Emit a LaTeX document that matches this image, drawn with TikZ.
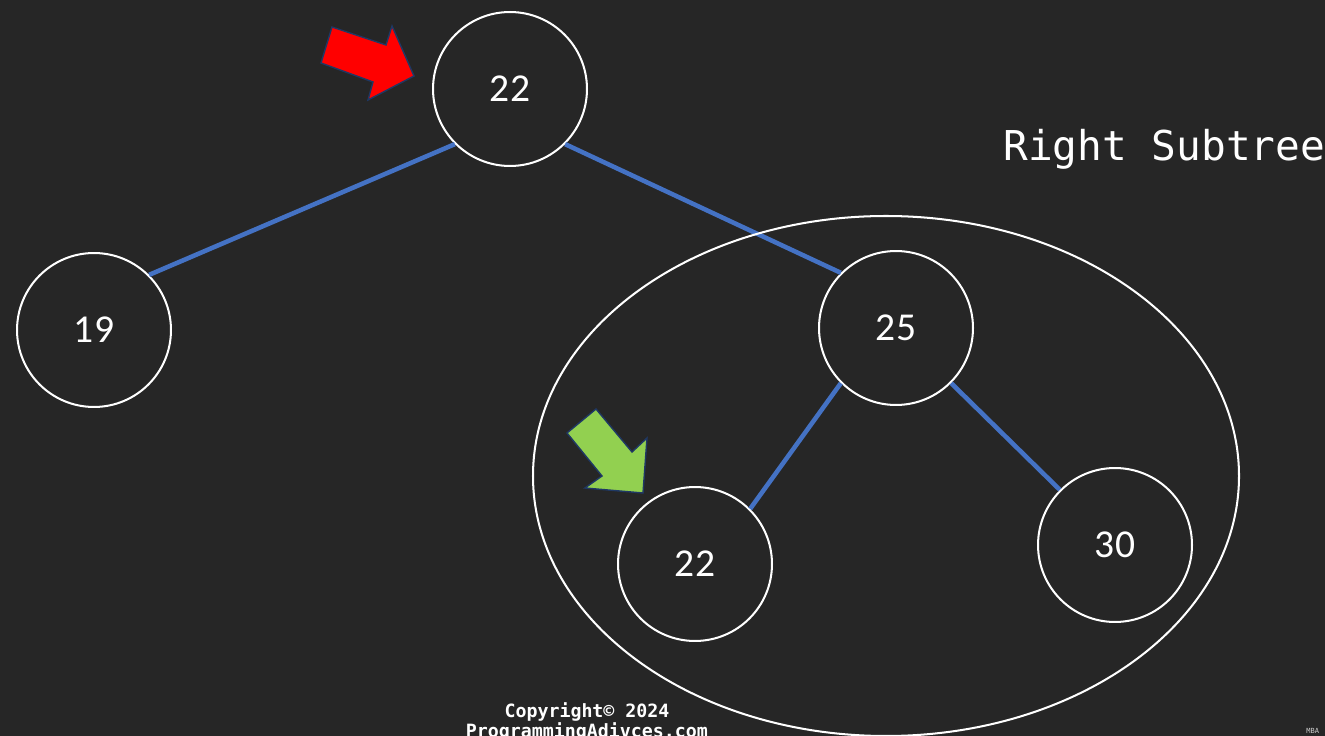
\documentclass[tikz,border=0pt]{standalone}
\usepackage{fontspec}
\setmainfont{Carlito}
\newfontfamily\monofont{DejaVu Sans Mono}
\usepackage{tikz}
\usetikzlibrary{positioning}

\definecolor{slidebg}{HTML}{262626}
\definecolor{edgeblue}{HTML}{4472C4}
\definecolor{arrowline}{HTML}{1F3864}
\definecolor{marker}{HTML}{92D050}

\begin{document}
\begin{tikzpicture}[x=0.02cm, y=-0.02cm,
    treenode/.style={circle, draw=white, line width=1.15pt, minimum size=3.08cm,
        text=white, font=\fontsize{22.5}{26}\selectfont},
    treeedge/.style={draw=edgeblue, line width=2.6pt},
    pointer/.style={draw=arrowline, line width=0.8pt, line join=miter}]
    \fill[slidebg] (0,0) rectangle (1325,736);
    \useasboundingbox (0,0) rectangle (1325,736);

    % the tree
    \node[treenode] (root) at (510,89) {22};
    \node[treenode] (left) at (94,330) {19};
    \node[treenode] (right) at (896,328) {25};
    \node[treenode] (rl) at (695,564) {22};
    \node[treenode] (rr) at (1115,545) {30};

    \draw[treeedge] (root.225) -- (left.45);
    \draw[treeedge] (root.-45) -- (right.135);
    \draw[treeedge] (right.225) -- (rl.45);
    \draw[treeedge] (right.-45) -- (rr.135);

    % subtree outline goes over the edge
    \draw[white, line width=1.15pt] (886,476) ellipse [x radius=353, y radius=260];
    \node[text=white, font=\monofont\fontsize{23.4}{26}\selectfont, anchor=base west, inner sep=0pt] (title) at (1003,161) {Right Subtree};

    % block arrows
    \filldraw[pointer, fill=red] (332,27) -- (386,45) -- (392,26) -- (414,76)
        -- (368,100) -- (373,82) -- (321,63) -- cycle;
    \filldraw[pointer, fill=marker] (596,409) -- (632,452) -- (647,438) -- (643,493)
        -- (585,488) -- (602,476) -- (567,433) -- cycle;

    % footer
    \node[text=white, font=\monofont\bfseries\fontsize{10.4}{10.2}\selectfont, align=center, anchor=north] (copy) at (587,696)
        {Copyright\textcopyright{} 2024\\ProgrammingAdivces.com};
    \node[text=white!80!black, font=\monofont\fontsize{4}{4}\selectfont, anchor=west, inner sep=0pt] (tag) at (1306,731) {MBA};
\end{tikzpicture}
\end{document}
